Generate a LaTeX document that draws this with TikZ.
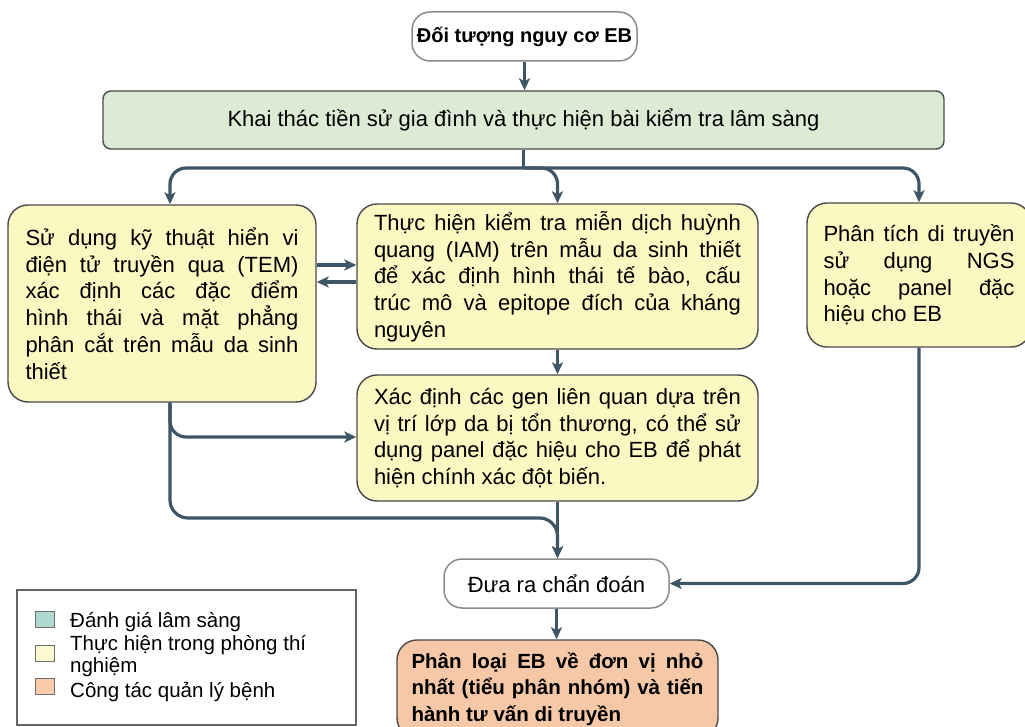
\documentclass[tikz,border=0pt]{standalone}
\usepackage{fontspec}
\setmainfont{Liberation Sans}
\usetikzlibrary{arrows.meta}
\definecolor{arr}{HTML}{3E5566}
\definecolor{boxline}{HTML}{4A4A4A}
\definecolor{yel}{HTML}{FCF8C2}
\definecolor{grn}{HTML}{DDEBD5}
\definecolor{org}{HTML}{F7C8A8}
\definecolor{tealsq}{HTML}{AED8D0}
\definecolor{yelsq}{HTML}{FBF9D0}
\definecolor{orgsq}{HTML}{F8CCAA}
\definecolor{wline}{HTML}{8C8C8C}
\newcommand\jl[2]{\makebox[#1][s]{#2}}
\begin{document}
\begin{tikzpicture}[x=1pt,y=-1pt,
  box/.style={draw=boxline, line width=1.4pt, rounded corners=20pt, inner sep=0pt,
    font=\fontsize{22}{26.7}\selectfont},
  ybox/.style={box, fill=yel},
  wbox/.style={draw=wline, line width=1.5pt, fill=white, rounded corners=18pt, inner sep=0pt},
  conn/.style={draw=arr, line width=3.2pt, -{Stealth[length=12pt,width=11pt,inset=3pt]}},
  plain/.style={draw=arr, line width=3.2pt},
  sq/.style={draw=boxline!80, line width=0.9pt, minimum width=19pt, minimum height=16pt, inner sep=0pt},
  legtext/.style={anchor=base west, inner sep=0pt, font=\fontsize{20.5}{23}\selectfont}
]
\useasboundingbox (0,0) rectangle (1025,727);

% nodes
\node[wbox, minimum width=225pt, minimum height=49pt, font=\bfseries\fontsize{20}{24}\selectfont] (top) at (524.5,36.5) {Đối tượng nguy cơ EB};
\node[box, fill=grn, rounded corners=8pt, minimum width=841pt, minimum height=58pt] (grnbox) at (523.5,120) {Khai thác tiền sử gia đình và thực hiện bài kiểm tra lâm sàng};

\node[ybox, minimum width=308pt, minimum height=197pt] (left) at (162,303.5) {\parbox{273pt}{%
\jl{273pt}{Sử dụng kỹ thuật hiển vi}\\
\jl{273pt}{điện tử truyền qua (TEM)}\\
\jl{273pt}{xác định các đặc điểm}\\
\jl{273pt}{hình thái và mặt phẳng}\\
\jl{273pt}{phân cắt trên mẫu da sinh}\\
thiết}};

\node[ybox, minimum width=401pt, minimum height=145pt] (mid) at (557.5,276.5) {\parbox{367pt}{%
\jl{367pt}{Thực hiện kiểm tra miễn dịch huỳnh}\\
\jl{367pt}{quang (IAM) trên mẫu da sinh thiết}\\
\jl{367pt}{để xác định hình thái tế bào, cấu}\\
\jl{367pt}{trúc mô và epitope đích của kháng}\\
nguyên}};

\node[ybox, minimum width=401pt, minimum height=126pt] (low) at (557.5,438) {\parbox{367pt}{%
\jl{367pt}{Xác định các gen liên quan dựa trên}\\
\jl{367pt}{vị trí lớp da bị tổn thương, có thể sử}\\
\jl{367pt}{dụng panel đặc hiệu cho EB để phát}\\
hiện chính xác đột biến.}};

\node[ybox, minimum width=224pt, minimum height=144pt] (right) at (919,275) {\parbox{191pt}{%
\jl{191pt}{Phân tích di truyền}\\
\jl{191pt}{sử dụng NGS}\\
\jl{191pt}{hoặc panel đặc}\\
hiệu cho EB}};

\node[wbox, minimum width=225pt, minimum height=49pt, font=\fontsize{22}{26}\selectfont] (diag) at (556.5,583.5) {Đưa ra chẩn đoán};

\node[box, fill=org, minimum width=321pt, minimum height=98pt, font=\bfseries\fontsize{20.5}{26.5}\selectfont] (org) at (557.5,689) {\parbox{292pt}{%
\jl{292pt}{Phân loại EB về đơn vị nhỏ}\\
\jl{292pt}{nhất (tiểu phân nhóm) và tiến}\\
hành tư vấn di truyền}};

% legend
\node[draw=boxline!85, line width=1.2pt, fill=white, minimum width=339pt, minimum height=135pt, inner sep=0pt] (leg) at (186.5,657.5) {};
\node[sq, fill=tealsq] (s1) at (44.5,619.5) {};
\node[sq, fill=yelsq] (s2) at (44.5,653.5) {};
\node[sq, fill=orgsq] (s3) at (44.5,686) {};
\node[legtext] (t1) at (70,627) {Đánh giá lâm sàng};
\node[legtext] (t2) at (70,650) {Thực hiện trong phòng thí};
\node[legtext] (t3) at (70,672.5) {nghiệm};
\node[legtext] (t4) at (70,697) {Công tác quản lý bệnh};

% helper coordinates
\coordinate (hy) at (0,168);
\coordinate (ya) at (0,265);
\coordinate (yb) at (0,282);
\coordinate (yc) at (0,437);
\coordinate (yd) at (0,518);
\coordinate (lb) at ([xshift=8pt]left.south);

% connectors
\draw[conn] (top.south) -- (top.south |- grnbox.north);
\draw[plain] (grnbox.south) -- (grnbox.south |- hy);
\draw[conn, rounded corners=16pt] (grnbox.south |- hy) -| ([xshift=8pt]left.north);
\draw[conn, rounded corners=16pt] (grnbox.south |- hy) -| (mid.north);
\draw[conn, rounded corners=16pt] (grnbox.south |- hy) -| (right.north);

\draw[conn] (left.east |- ya) -- (mid.west |- ya);
\draw[conn] (mid.west |- yb) -- (left.east |- yb);

\draw[conn] (mid.south) -- (low.north);
\draw[conn, rounded corners=16pt] (lb) |- (low.west |- yc);
\draw[conn, rounded corners=18pt] (lb) |- (low.south |- yd) -- (low.south |- diag.north);
\draw[conn] (low.south) -- (low.south |- diag.north);
\draw[conn, rounded corners=16pt] (right.south) |- (diag.east);
\draw[conn] (diag.south) -- (diag.south |- org.north);
\end{tikzpicture}
\end{document}
